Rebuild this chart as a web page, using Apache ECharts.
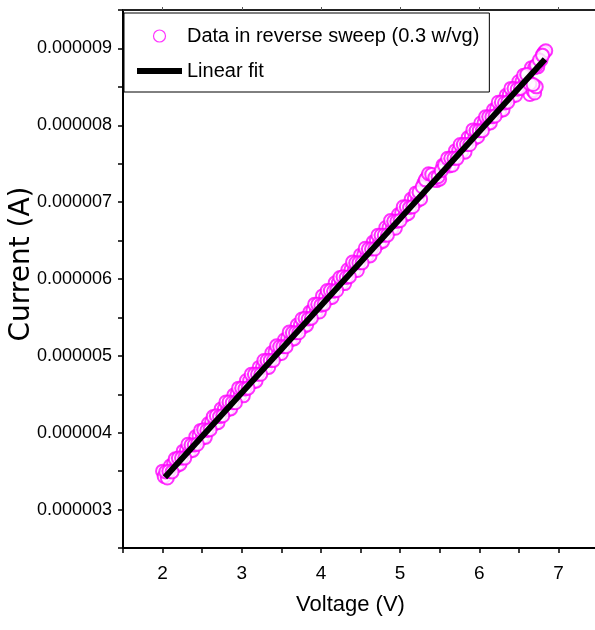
<!DOCTYPE html>
<html>
<head>
<meta charset="utf-8">
<script src="https://cdn.jsdelivr.net/npm/echarts@6/dist/echarts.min.js"></script>
<style>
  html, body { margin: 0; padding: 0; background: #fff; }
  #chart { width: 595px; height: 630px; }
</style>
</head>
<body>
<div id="chart"></div>
<script>
// Measured data (reverse sweep), voltage in V, current in microamps
const voltage = [
  2.00, 2.02, 2.06, 2.10, 2.14, 2.18, 2.22, 2.26, 2.30, 2.34, 2.38,
  2.42, 2.46, 2.50, 2.54, 2.58, 2.62, 2.66, 2.70, 2.74, 2.78,
  2.82, 2.86, 2.90, 2.94, 2.98, 3.02, 3.06, 3.10, 3.14, 3.18,
  3.22, 3.26, 3.30, 3.34, 3.38, 3.42, 3.46, 3.50, 3.54, 3.58,
  3.62, 3.66, 3.70, 3.74, 3.78, 3.82, 3.86, 3.90, 3.94, 3.98,
  4.02, 4.06, 4.10, 4.14, 4.18, 4.22, 4.26, 4.30, 4.34, 4.38,
  4.42, 4.46, 4.50, 4.54, 4.58, 4.62, 4.66, 4.70, 4.74, 4.78,
  4.82, 4.86, 4.90, 4.94, 4.98, 5.02, 5.06, 5.10, 5.14, 5.18,
  5.22, 5.26, 5.30, 5.34, 5.38, 5.42, 5.46, 5.50, 5.54, 5.58,
  5.62, 5.66, 5.70, 5.74, 5.78, 5.82, 5.86, 5.90, 5.94, 5.98,
  6.02, 6.06, 6.10, 6.14, 6.18, 6.22, 6.26, 6.30, 6.34, 6.38,
  6.42, 6.46, 6.50, 6.54, 6.58, 6.62, 6.66, 6.70, 6.74, 6.78,
  6.82, 6.64, 6.68, 6.70, 6.72, 6.80, 6.84
];
const currentMicroA = [
  3.50, 3.43, 3.41, 3.57, 3.60, 3.57, 3.59, 3.76, 3.77, 3.76, 3.77,
  3.95, 3.96, 3.93, 3.94, 4.12, 4.14, 4.12, 4.13, 4.31, 4.31,
  4.30, 4.31, 4.49, 4.50, 4.49, 4.48, 4.68, 4.68, 4.66, 4.67,
  4.85, 4.85, 4.85, 4.85, 5.04, 5.05, 5.02, 5.03, 5.21, 5.23,
  5.21, 5.22, 5.40, 5.40, 5.38, 5.40, 5.57, 5.59, 5.57, 5.57,
  5.78, 5.77, 5.75, 5.76, 5.95, 5.95, 5.94, 5.94, 6.12, 6.12,
  6.11, 6.11, 6.31, 6.31, 6.30, 6.30, 6.48, 6.50, 6.47, 6.49,
  6.67, 6.67, 6.66, 6.66, 6.84, 6.86, 6.83, 6.85, 7.04, 7.05,
  7.02, 7.04, 7.25, 7.32, 7.36, 7.31, 7.28, 7.30, 7.48, 7.48,
  7.47, 7.48, 7.67, 7.67, 7.66, 7.65, 7.84, 7.86, 7.83, 7.85,
  8.03, 8.03, 8.02, 8.03, 8.20, 8.22, 8.19, 8.20, 8.39, 8.40,
  8.38, 8.39, 8.57, 8.57, 8.56, 8.57, 8.75, 8.75, 8.76, 8.85,
  8.95, 8.40, 8.45, 8.42, 8.50, 8.92, 8.97
];
// Second pass of readings in the same sweep
const voltageB = [
  2.04, 2.08, 2.12, 2.16, 2.20, 2.24, 2.28, 2.32, 2.36, 2.40,
  2.44, 2.48, 2.52, 2.56, 2.60, 2.64, 2.68, 2.72, 2.76, 2.80,
  2.84, 2.88, 2.92, 2.96, 3.00, 3.04, 3.08, 3.12, 3.16, 3.20,
  3.24, 3.28, 3.32, 3.36, 3.40, 3.44, 3.48, 3.52, 3.56, 3.60,
  3.64, 3.68, 3.72, 3.76, 3.80, 3.84, 3.88, 3.92, 3.96, 4.00,
  4.04, 4.08, 4.12, 4.16, 4.20, 4.24, 4.28, 4.32, 4.36, 4.40,
  4.44, 4.48, 4.52, 4.56, 4.60, 4.64, 4.68, 4.72, 4.76, 4.80,
  4.84, 4.88, 4.92, 4.96, 5.00, 5.04, 5.08, 5.12, 5.16, 5.20,
  5.24, 5.28, 5.32, 5.36, 5.40, 5.44, 5.48, 5.52, 5.56, 5.60,
  5.64, 5.68, 5.72, 5.76, 5.80, 5.84, 5.88, 5.92, 5.96, 6.00,
  6.04, 6.08, 6.12, 6.16, 6.20, 6.24, 6.28, 6.32, 6.36, 6.40,
  6.44, 6.48, 6.52, 6.56, 6.60, 6.64, 6.68, 6.72, 6.76, 6.80
];
const currentMicroAB = [
  3.49, 3.50, 3.49, 3.66, 3.67, 3.67, 3.67, 3.85, 3.84, 3.84,
  3.85, 4.03, 4.04, 4.03, 4.04, 4.21, 4.22, 4.21, 4.22, 4.40,
  4.40, 4.39, 4.39, 4.58, 4.58, 4.57, 4.58, 4.76, 4.76, 4.76,
  4.76, 4.94, 4.94, 4.94, 4.94, 5.13, 5.12, 5.12, 5.12, 5.31,
  5.30, 5.30, 5.30, 5.48, 5.49, 5.48, 5.49, 5.67, 5.67, 5.66,
  5.67, 5.85, 5.85, 5.84, 5.85, 6.02, 6.03, 6.02, 6.03, 6.22,
  6.21, 6.21, 6.21, 6.40, 6.39, 6.39, 6.39, 6.57, 6.57, 6.57,
  6.57, 6.76, 6.75, 6.75, 6.76, 6.94, 6.94, 6.93, 6.94, 7.12,
  7.13, 7.20, 7.29, 7.37, 7.36, 7.32, 7.33, 7.41, 7.48, 7.57,
  7.57, 7.57, 7.57, 7.75, 7.75, 7.75, 7.75, 7.94, 7.93, 7.93,
  7.93, 8.11, 8.11, 8.11, 8.12, 8.30, 8.30, 8.29, 8.30, 8.48,
  8.48, 8.47, 8.48, 8.65, 8.66, 8.54, 8.53, 8.78, 8.85, 8.91
];
// Linear fit end points
const fitVoltage = [2.03, 6.83];
const fitCurrentMicroA = [3.42, 8.86];

const xLabelValues = [2, 3, 4, 5, 6, 7];
const xTickValues = [1.5, 2, 2.5, 3, 3.5, 4, 4.5, 5, 5.5, 6, 6.5, 7, 7.5];
const yLabelValues = [3, 4, 5, 6, 7, 8, 9];
const yTickValues = [2.5, 3, 3.5, 4, 4.5, 5, 5.5, 6, 6.5, 7, 7.5, 8, 8.5, 9, 9.5];

const seriesNames = ['Data in reverse sweep (0.3 w/vg)', 'Linear fit'];

const SANS = "'Liberation Sans', Arial, sans-serif";

const chart = echarts.init(document.getElementById('chart'), null, { renderer: 'canvas' });

const scatterData = voltage.map((v, i) => [v, currentMicroA[i]])
  .concat(voltageB.map((v, i) => [v, currentMicroAB[i]]));
const fitData = fitVoltage.map((v, i) => [v, fitCurrentMicroA[i]]);

const option = {
  backgroundColor: '#ffffff',
  animation: false,
  grid: { left: 123, top: 10, width: 475, height: 538, outerBoundsMode: 'none', containLabel: false },
  legend: {
    orient: 'vertical',
    left: 124,
    top: 13,
    padding: [13, 10, 11, 13],
    itemWidth: 45,
    itemHeight: 12,
    itemGap: 15,
    backgroundColor: '#ffffff',
    borderColor: '#000000',
    borderWidth: 1,
    borderRadius: 0,
    textStyle: { fontFamily: SANS, fontSize: 20, color: '#000' },
    data: [
      { name: seriesNames[0], icon: 'circle',
        itemStyle: { color: 'rgba(0,0,0,0)', borderColor: '#ff00ff', borderWidth: 1.2 } },
      { name: seriesNames[1], icon: 'path://M0 0H45V6H0Z',
        itemStyle: { color: '#000000', borderWidth: 0 } }
    ]
  },
  xAxis: [
    {
      type: 'value', position: 'bottom', min: 1.5, max: 7.5,
      name: 'Voltage (V)', nameLocation: 'middle', nameGap: 46, nameMoveOverlap: false,
      nameTextStyle: { fontFamily: SANS, fontSize: 22, color: '#000', padding: [0, 20, 0, 0] },
      axisLine: { onZero: false, lineStyle: { color: '#000', width: 2 } },
      axisTick: { show: true, inside: false, length: 5, customValues: xTickValues, lineStyle: { color: '#000', width: 1.5 } },
      axisLabel: { customValues: xLabelValues, margin: 16, fontFamily: SANS, fontSize: 19, color: '#000',
        formatter: v => String(v) },
      splitLine: { show: false }
    },
    {
      type: 'value', position: 'top', min: 1.5, max: 7.5,
      axisLine: { onZero: false, lineStyle: { color: '#222', width: 2 } },
      axisTick: { show: true, inside: false, length: 3, customValues: xLabelValues, lineStyle: { color: '#555', width: 1 } },
      axisLabel: { show: false },
      splitLine: { show: false }
    }
  ],
  yAxis: [
    {
      type: 'value', position: 'left', min: 2.5, max: 9.5,
      name: 'Current (A)', nameLocation: 'middle', nameGap: 87, nameMoveOverlap: false,
      nameTextStyle: { fontFamily: "'DejaVu Sans', sans-serif", fontSize: 28, color: '#000', padding: [0, 0, 0, 30] },
      axisLine: { onZero: false, lineStyle: { color: '#000', width: 2 } },
      axisTick: { show: true, inside: false, length: 5, customValues: yTickValues, lineStyle: { color: '#000', width: 1.5 } },
      axisLabel: { customValues: yLabelValues, margin: 11, fontFamily: SANS, fontSize: 18, color: '#000',
        formatter: v => (v * 1e-6).toFixed(6) },
      splitLine: { show: false }
    },
    {
      type: 'value', position: 'right', min: 2.5, max: 9.5,
      axisLine: { onZero: false, lineStyle: { color: '#000', width: 2 } },
      axisTick: { show: false },
      axisLabel: { show: false },
      splitLine: { show: false }
    }
  ],
  series: [
    {
      name: seriesNames[0],
      type: 'scatter',
      xAxisIndex: 0, yAxisIndex: 0,
      symbol: 'emptyCircle',
      symbolSize: 13,
      itemStyle: { color: '#ff00ff', borderColor: '#ff00ff', borderWidth: 1.6 },
      data: scatterData,
      z: 2
    },
    {
      name: seriesNames[1],
      type: 'line',
      xAxisIndex: 0, yAxisIndex: 0,
      symbol: 'none',
      lineStyle: { color: '#000', width: 6 },
      itemStyle: { color: '#000' },
      data: fitData,
      z: 3
    }
  ]
};
chart.setOption(option);
</script>
</body>
</html>
